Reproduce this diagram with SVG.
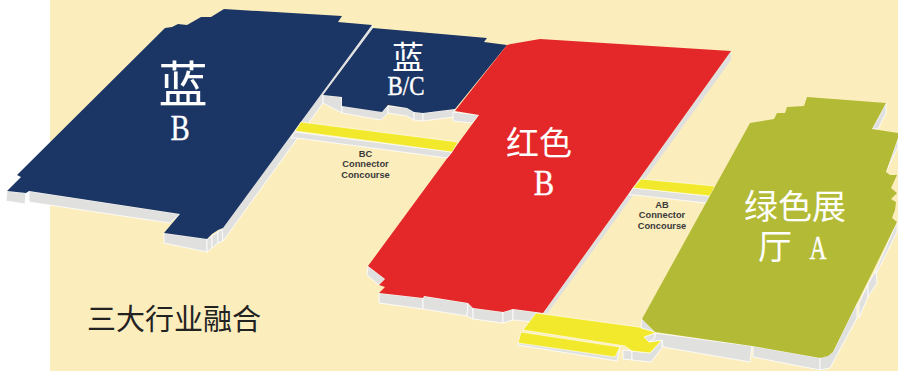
<svg xmlns="http://www.w3.org/2000/svg" width="898" height="371" viewBox="0 0 898 371">
<style>
.side{fill:#e0e1df;stroke:#fff;stroke-width:.8}
.yel{fill:#f2e92c;stroke:#fff;stroke-width:.6}
.lab{fill:#fff;stroke:#fff;stroke-width:.4;font-family:"Liberation Serif","Noto Sans CJK SC",serif;text-anchor:middle}
.sm{fill:#3a3a3a;font-family:"Liberation Sans",sans-serif;font-size:9.3px;font-weight:700;text-anchor:middle}
.cj{fill:#fff;font-family:"Noto Sans CJK SC",sans-serif;text-anchor:middle}
</style>
<rect x="50" y="0" width="848" height="371" fill="#fcedbd"/>
<g id="hall-blue-b">
<polygon class="side" points="7,191 6,201 25,204 26,193"/>
<polygon class="side" points="29,191 29,202 170,223 180,214"/>
<polygon class="side" points="164,233 164,243 207,252 207,239"/>
<polygon class="side" points="207,239 207,252 212,248 212,236"/>
<polygon class="side" points="212,236 212,248 218,243 218,232"/>
<polygon class="side" points="218,232 218,243 223,241 223,228"/>
<polygon class="side" points="372,25 222,228 223,241 323,103 323,95 373,28"/>
<polygon fill="#1b3564" points="224,9 342,16 338,22 372,25 223,228 218,230 212,234 207,239 164,233 180,214 29,191 26,193 7,191 21,177 17,175 165,28 172,27 178,24 187,25 201,17 211,17"/>
<text class="cj" x="183" y="102" font-size="49">蓝</text>
<text class="lab" transform="translate(180 140) scale(.8 1)" font-size="36">B</text>
</g>
<g id="hall-blue-bc">
<polygon class="side" points="323,95 342,97 342,113 323,103"/>
<polygon class="side" points="342,97 382,112 388,106 388,113 381,120 342,113"/>
<polygon class="side" points="388,106 407,108 414,112 414,120 407,116 388,113"/>
<polygon class="side" points="414,112 423,113 423,121 414,120"/>
<polygon class="side" points="423,113 455,109 453,117 423,121"/>
<polygon class="side" points="453,112 479,115 472,123 453,121"/>
<polygon fill="#1b3564" points="373,28 487,38 484,42 507,45 455,109 423,113 414,112 407,108 388,105 382,112 342,106 342,97 323,95"/>
<text class="cj" x="408" y="69" font-size="32">蓝</text>
<text class="lab" transform="translate(406 95) scale(.85 1)" font-size="27">B/C</text>
</g>
<g id="hall-red-b">
<polygon class="side" points="368,266 367,275 379,285 385,279"/>
<polygon class="side" points="379,293 379,303 423,309 423,298"/>
<polygon class="side" points="423,296 423,309 467,316 468,303"/>
<polygon class="side" points="468,303 467,316 473,319 473,308"/>
<polygon class="side" points="473,308 473,319 503,323 503,312"/>
<polygon class="side" points="503,312 503,323 513,320 513,309"/>
<polygon class="side" points="513,309 513,320 536,322 543,313"/>
<polygon fill="#e0e1df" points="731,51 731,60 547,314 543,313"/>
<polygon fill="#e42829" points="511,44 540,39 731,51 543,313 513,309 503,312 473,308 468,303 424,296 423,298 379,293 385,287 379,285 385,279 368,266 479,115 455,111 507,45"/>
<text class="cj" x="539" y="155" font-size="33">红色</text>
<text class="lab" transform="translate(544 195) scale(.85 1)" font-size="36">B</text>
</g>
<g id="connectors">
<g id="bc-connector">
<polygon class="side" points="295,132 452,152 447,158 297,138 291,138"/>
<polygon class="yel" points="301,122 458,142 452,152 295,131"/>
<text class="sm" x="365.5" y="157">BC</text>
<text class="sm" x="365.5" y="167.3">Connector</text>
<text class="sm" x="365.5" y="177.5">Concourse</text>
</g>
<g id="ab-connector">
<polygon class="side" points="633,188 710,196 706,203 635,195 629,195"/>
<polygon class="yel" points="641,179 715,186 710,196 633,188"/>
<text class="sm" x="662" y="208">AB</text>
<text class="sm" x="662" y="218.3">Connector</text>
<text class="sm" x="662" y="228.5">Concourse</text>
</g>
<g id="south-connector">
<polygon class="side" points="518,343 518,345 617,361 620,347"/>
<polygon class="side" points="623,350 623,359 632,360 632,351"/>
<polygon class="side" points="632,351 632,360 651,362 662,348 662,340 650,353"/>
<polygon class="side" points="655,333 644,337 649,342 655,338"/>
<polygon class="yel" points="536,313 653,329 655,333 644,337 649,342 662,340 650,353 632,351 625,346 523,330"/>
<polygon class="yel" points="521,332 620,347 615,357 518,343"/>
</g>
</g>
<g id="hall-green-a">
<polygon class="side" points="642,319 641,328 655,332"/>
<polygon class="side" points="655,333 752,346 750,362 663,347 662,340 649,342 655,338"/>
<polygon class="side" points="753,346 753,357 820,370 820,358"/>
<polygon class="side" points="820,358 820,370 830,368 857,318 857,303 833,352"/>
<polygon class="side" points="859,303 859,318 868,297 868,284"/>
<polygon class="side" points="868,284 868,297 877,283 876,270"/>
<polygon class="side" points="876,270 876,274 897,232 897,222"/>
<polygon class="side" points="886,103 886,113 878,129 872,129"/>
<polygon class="side" points="886,172 898,147 898,138"/>
<polygon fill="#b3ba35" points="750,123 774,119 777,113 785,113 787,107 804,106 807,97 886,103 872,129 898,133 898,138 886,172 890,175 897,175 891,188 897,193 891,199 896,202 895,210 892,218 897,222 873,271 857,303 833,352 828,356 820,358 752,346 655,332 642,319"/>
<text class="cj" x="795" y="219" font-size="34">绿色展</text>
<text class="cj" x="775" y="259" font-size="34">厅</text>
<text class="lab" transform="translate(818 259) scale(.72 1)" font-size="33">A</text>
</g>
<text x="174" y="330" font-size="29" fill="#222" font-family="Noto Sans CJK SC,sans-serif" text-anchor="middle">三大行业融合</text>
</svg>
